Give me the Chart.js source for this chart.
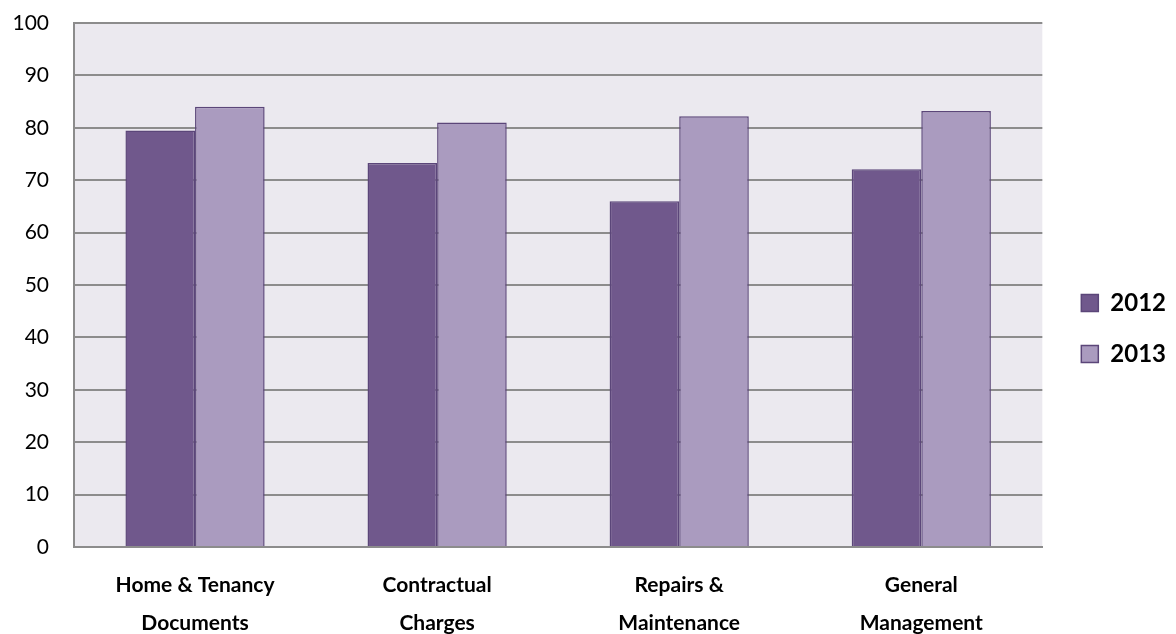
<!DOCTYPE html>
<html>
<head>
<meta charset="utf-8">
<script src="https://cdn.jsdelivr.net/npm/chart.js@4.4.0/dist/chart.umd.min.js"></script>
<style>
  html, body { margin: 0; padding: 0; background: #ffffff; }
  #wrap { width: 1176px; height: 634px; }
</style>
</head>
<body>
<div id="wrap"><canvas id="chart"></canvas></div>
<script>
const categories = [
  ["Home & Tenancy", "Documents"],
  ["Contractual", "Charges"],
  ["Repairs &", "Maintenance"],
  ["General", "Management"]
];
const series_names = ["2012", "2013"];
const values_2012 = [79.5, 73.3, 66.0, 72.1];
const values_2013 = [84.0, 81.0, 82.2, 83.2];
const y_ticks = [0, 10, 20, 30, 40, 50, 60, 70, 80, 90, 100];

const font_family = "Lato, 'Open Sans', sans-serif";

// paint the grey-lilac plot background
const plot_bg = {
  id: "plot_bg",
  beforeDraw(chart) {
    const a = chart.chartArea;
    const ctx = chart.ctx;
    ctx.save();
    ctx.fillStyle = "#ebe9ef";
    ctx.fillRect(a.left, a.top, a.right - a.left, a.bottom - a.top);
    ctx.restore();
  }
};

new Chart(document.getElementById("chart"), {
  type: "bar",
  plugins: [plot_bg],
  data: {
    labels: categories,
    datasets: [{
      label: series_names[0],
      data: values_2012,
      backgroundColor: "#70588c",
      borderColor: "#5b4679",
      borderWidth: 1.5
    }, {
      label: series_names[1],
      data: values_2013,
      backgroundColor: "#aa9bbf",
      borderColor: "#5b4679",
      borderWidth: 1.5
    }]
  },
  options: {
    responsive: true,
    maintainAspectRatio: false,
    animation: false,
    layout: {
      padding: { top: 23, right: 0, bottom: 0, left: 0 }
    },
    datasets: {
      bar: { categoryPercentage: 0.575, barPercentage: 1.0 }
    },
    plugins: {
      tooltip: { enabled: false },
      legend: {
        position: "right",
        labels: {
          boxWidth: 17,
          boxHeight: 17,
          padding: 27,
          color: "#000000",
          font: { family: font_family, size: 24, weight: "bold" }
        }
      }
    },
    scales: {
      x: {
        grid: { display: false, drawTicks: false },
        border: { color: "#8c8c8c", width: 2 },
        ticks: {
          color: "#000000",
          padding: 20,
          maxRotation: 0,
          autoSkip: false,
          font: { family: font_family, size: 21, weight: "bold", lineHeight: 1.78 }
        },
        afterFit(axis) { axis.height = 87; }
      },
      y: {
        min: 0,
        max: 100,
        afterBuildTicks(axis) { axis.ticks = y_ticks.map(v => ({ value: v })); },
        grid: { color: "#8c8c8c", lineWidth: 2, drawTicks: false },
        border: { color: "#8c8c8c", width: 2 },
        ticks: {
          color: "#000000",
          padding: 25,
          font: { family: font_family, size: 21 }
        },
        afterFit(axis) {
          axis.width = 74;
          axis.paddingTop = 0;
          axis.paddingBottom = 0;
        }
      },
      // empty spacer between the plot and the legend
      gap: {
        position: "right",
        display: true,
        grid: { display: false, drawTicks: false },
        border: { display: false },
        ticks: { display: false },
        afterFit(axis) { axis.width = 12; }
      }
    }
  }
});
</script>
</body>
</html>
